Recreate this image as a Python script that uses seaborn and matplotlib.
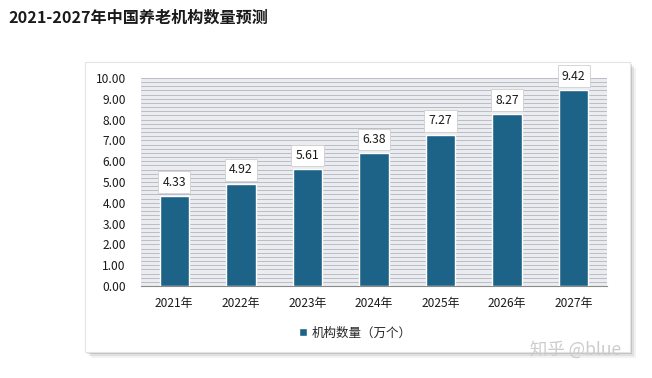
import pandas as pd
import matplotlib.pyplot as plt
import seaborn as sns
from matplotlib.patches import Rectangle
from matplotlib.ticker import MultipleLocator

# data
years = ['2021年', '2022年', '2023年', '2024年', '2025年', '2026年', '2027年']
counts = [4.33, 4.92, 5.61, 6.38, 7.27, 8.27, 9.42]
series_name = '机构数量（万个）'

df = pd.DataFrame({'year': years, 'count': counts})

sns.set_theme(style='white')
plt.rcParams['font.family'] = ['Noto Sans CJK SC', 'DejaVu Sans']

bar_color = '#1d6387'

fig = plt.figure(figsize=(6.52, 3.78), dpi=100)
fig.patch.set_facecolor('white')

# white panel with a soft shadow behind the chart
for off, alpha in [(6, 0.05), (4, 0.08), (2, 0.12)]:
    fig.patches.append(Rectangle((85 / 652 + off / 652, 1 - 352 / 378 - off / 378),
                                 545 / 652, 290 / 378, transform=fig.transFigure,
                                 facecolor='#000000', alpha=alpha, edgecolor='none', zorder=-2))
fig.patches.append(Rectangle((85 / 652, 1 - 352 / 378), 545 / 652, 290 / 378,
                             transform=fig.transFigure, facecolor='white',
                             edgecolor='#e4e4e4', linewidth=0.8, zorder=-1))

fig.text(8 / 652, 1 - 18 / 378, '2021-2027年中国养老机构数量预测', fontsize=11.6,
         fontweight='bold', color='#1a1a1a', va='center', ha='left')

ax = fig.add_axes([141 / 652, 1 - 286 / 378, 466 / 652, 208 / 378])
ax.set_facecolor('#eaecf0')

sns.barplot(data=df, x='year', y='count', color=bar_color, width=0.44,
            edgecolor='white', linewidth=1.0, saturation=1, ax=ax, zorder=3,
            label=series_name)

# dense horizontal stripes
ax.set_ylim(0, 10)
ax.yaxis.set_major_locator(MultipleLocator(1))
ax.yaxis.set_minor_locator(MultipleLocator(0.2))
ax.yaxis.set_major_formatter(lambda v, p: f'{v:.2f}')
ax.grid(which='both', axis='y', color='#b2b6be', linewidth=0.6, zorder=0)
ax.set_axisbelow(True)

for s in ['top', 'right', 'left']:
    ax.spines[s].set_visible(False)
ax.spines['bottom'].set_color('#8a8a8a')
ax.spines['bottom'].set_linewidth(0.8)

ax.set_xlabel('')
ax.set_ylabel('')
ax.tick_params(axis='y', which='both', length=0, labelsize=8.6, colors='#1a1a1a', pad=11)
ax.tick_params(axis='x', length=0, labelsize=8.6, colors='#1a1a1a', pad=8)

# value labels in boxes
for i, v in enumerate(counts):
    ax.annotate(f'{v:.2f}', (i, v), xytext=(0, 10), textcoords='offset points',
                ha='center', va='center', fontsize=8.8, color='#1a1a1a', zorder=5,
                bbox=dict(boxstyle='square,pad=0.35', facecolor='white',
                          edgecolor='#cfcfcf', linewidth=0.6))

leg = ax.legend(loc='upper center', bbox_to_anchor=(0.46, -0.14), frameon=False,
                fontsize=9, handlelength=0.6, handleheight=0.6, handletextpad=0.4)

fig.text(530 / 652, 1 - 350 / 378, '知乎 @blue', fontsize=12.5, color='#cccccc',
         va='center', ha='left')

fig.savefig('out.png', dpi=100)
